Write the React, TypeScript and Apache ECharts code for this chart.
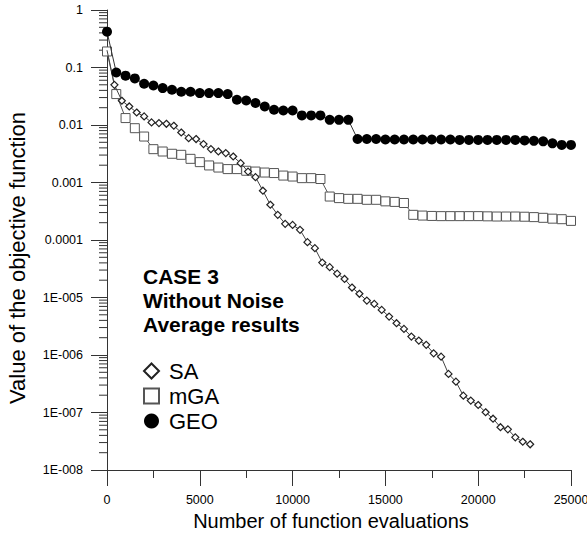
import React, { useEffect, useRef } from 'react';
import * as echarts from 'echarts';

const FONT = '"Liberation Sans", Arial, sans-serif';

const seriesNames = ['SA', 'mGA', 'GEO'];
const xTickValues = [0, 5000, 10000, 15000, 20000, 25000];
const yTickLabels = ['1', '0.1', '0.01', '0.001', '0.0001', '1E-005', '1E-006', '1E-007', '1E-008'];
const annotationLines = ['CASE 3', 'Without Noise', 'Average results'];
const xTitle = 'Number of function evaluations';
const yTitle = 'Value of the objective function';

const saPoints: [number, number][] = [
  [0, 0.2], [400, 0.05], [800, 0.0264], [1200, 0.021], [1600, 0.0165], [2000, 0.0141],
  [2400, 0.0111], [2800, 0.0108], [3200, 0.0105], [3600, 0.0097], [4000, 0.0074],
  [4400, 0.0059], [4800, 0.0057], [5200, 0.00466], [5600, 0.00381], [6000, 0.00346],
  [6400, 0.00325], [6800, 0.00283], [7200, 0.00217], [7600, 0.00155], [8000, 0.00124],
  [8400, 0.00072], [8800, 0.00041], [9200, 0.000274], [9600, 0.000191], [10000, 0.000183],
  [10400, 0.00015], [10800, 0.0000916], [11200, 0.0000721], [11600, 0.0000405],
  [12000, 0.0000337], [12400, 0.000026], [12800, 0.000021], [13200, 0.0000149],
  [13600, 0.0000116], [14000, 0.00000884], [14400, 0.00000774], [14800, 0.00000609],
  [15200, 0.00000465], [15600, 0.00000357], [16000, 0.00000284], [16400, 0.00000209],
  [16800, 0.00000178], [17200, 0.0000015], [17600, 0.00000107], [18000, 0.000000937],
  [18400, 0.000000469], [18800, 0.000000344], [19200, 0.000000196], [19600, 0.000000161],
  [20000, 0.000000135], [20400, 0.000000101], [20800, 0.000000078], [21200, 0.0000000555],
  [21600, 0.000000051], [22000, 0.000000037], [22400, 0.000000031], [22800, 0.000000028],
];

const mgaPoints: [number, number][] = [
  [0, 0.19], [500, 0.0345], [1000, 0.0132], [1500, 0.0088], [2000, 0.0063], [2500, 0.0038],
  [3000, 0.00346], [3500, 0.00316], [4000, 0.00303], [4500, 0.00258], [5000, 0.00226],
  [5500, 0.00198], [6000, 0.00182], [6500, 0.00171], [7000, 0.00171], [7500, 0.0016],
  [8000, 0.00155], [8500, 0.00149], [9000, 0.00146], [9500, 0.00132], [10000, 0.00127],
  [10500, 0.00119], [11000, 0.00119], [11500, 0.00115], [12000, 0.00057], [12500, 0.000535],
  [13000, 0.00052], [13500, 0.00052], [14000, 0.0005], [14500, 0.0005], [15000, 0.00047],
  [15500, 0.00046], [16000, 0.00044], [16500, 0.000274], [17000, 0.000266], [17500, 0.000262],
  [18000, 0.00026], [18500, 0.00026], [19000, 0.00026], [19500, 0.00026], [20000, 0.00026],
  [20500, 0.000258], [21000, 0.000256], [21500, 0.000256], [22000, 0.000256], [22500, 0.000254],
  [23000, 0.00025], [23500, 0.000243], [24000, 0.000235], [24500, 0.00023], [25000, 0.000215],
];

const geoPoints: [number, number][] = [
  [0, 0.42], [500, 0.082], [1000, 0.072], [1500, 0.0645], [2000, 0.0522], [2500, 0.0487],
  [3000, 0.0439], [3500, 0.041], [4000, 0.0379], [4500, 0.0379], [5000, 0.0359], [5500, 0.0359],
  [6000, 0.0359], [6500, 0.0345], [7000, 0.0275], [7500, 0.0267], [8000, 0.0241], [8500, 0.021],
  [9000, 0.0184], [9500, 0.0179], [10000, 0.0179], [10500, 0.0147], [11000, 0.0147],
  [11500, 0.0147], [12000, 0.0123], [12500, 0.0123], [13000, 0.0123], [13500, 0.0057],
  [14000, 0.0057], [14500, 0.0057], [15000, 0.0056], [15500, 0.0056], [16000, 0.0056],
  [16500, 0.0056], [17000, 0.0056], [17500, 0.0056], [18000, 0.0056], [18500, 0.0056],
  [19000, 0.0055], [19500, 0.0055], [20000, 0.0055], [20500, 0.0055], [21000, 0.0055],
  [21500, 0.0055], [22000, 0.0055], [22500, 0.0054], [23000, 0.0053], [23500, 0.0052],
  [24000, 0.0048], [24500, 0.0045], [25000, 0.0045],
];

// minor tick positions of the log axis (2..9 within each decade)
const yMinorTicks: number[] = [];
for (let k = -8; k < 0; k++) {
  for (let m = 2; m <= 9; m++) yMinorTicks.push(m * Math.pow(10, k));
}

export default function App() {
  const ref = useRef<HTMLDivElement>(null);

  useEffect(() => {
    document.body.style.margin = '0';
    const chart = echarts.init(ref.current!, undefined, { renderer: 'svg' });
    const option: any = {
      animation: false,
      backgroundColor: '#fff',
      textStyle: { fontFamily: FONT },
      grid: { left: 107, right: 16, top: 10, bottom: 65, outerBoundsMode: 'none', containLabel: false },
      xAxis: {
        type: 'value',
        min: xTickValues[0],
        max: xTickValues[xTickValues.length - 1],
        interval: xTickValues[1] - xTickValues[0],
        name: xTitle,
        nameLocation: 'middle',
        nameGap: 38,
        nameTextStyle: { fontSize: 20, color: '#000', fontFamily: FONT, padding: [0, 16, 0, 0] },
        axisLine: { lineStyle: { color: '#333', width: 1 } },
        axisTick: { inside: false, length: 16, lineStyle: { color: '#333' } },
        minorTick: { show: true, splitNumber: 2, length: 8, lineStyle: { color: '#333' } },
        splitLine: { show: false },
        axisLabel: {
          margin: 23, fontSize: 12.5, color: '#000', fontFamily: FONT,
          showMinLabel: true, showMaxLabel: true, hideOverlap: false,
          formatter: (v: number) => String(v),
        },
      },
      yAxis: {
        type: 'log',
        logBase: 10,
        min: 1e-8,
        max: 1,
        name: yTitle,
        nameLocation: 'middle',
        nameGap: 79,
        nameTextStyle: { fontSize: 22, color: '#000', fontFamily: FONT, padding: [0, 36, 0, 0] },
        axisLine: { show: true, lineStyle: { color: '#333', width: 1 } },
        axisTick: { show: true, inside: false, length: 16, lineStyle: { color: '#333' } },
        splitLine: { show: false },
        axisLabel: {
          margin: 24, fontSize: 12.5, color: '#000', fontFamily: FONT,
          showMinLabel: true, showMaxLabel: true,
          formatter: (v: number) => {
            const k = Math.round(-Math.log10(v));
            return yTickLabels[k] ?? '';
          },
        },
      },
      legend: {
        orient: 'vertical',
        left: 138,
        top: 355,
        itemWidth: 15,
        itemHeight: 15,
        itemGap: 3,
        selectedMode: false,
        data: [
          { name: seriesNames[0], icon: 'diamond' },
          { name: seriesNames[1], icon: 'rect' },
          { name: seriesNames[2], icon: 'circle' },
        ],
        textStyle: { fontSize: 22, lineHeight: 22, color: '#000', fontFamily: FONT, padding: [0, 0, 0, 5] },
      },
      graphic: [
        {
          type: 'text',
          left: 143,
          top: 264,
          style: {
            text: annotationLines.join('\n'),
            font: `bold 21px ${FONT}`,
            lineHeight: 24,
            fill: '#000',
          },
        },
      ],
      series: [
        {
          type: 'custom',
          silent: true,
          clip: false,
          data: yMinorTicks.map((v) => [xTickValues[0], v]),
          encode: { x: 0, y: 1 },
          renderItem: (_params: any, api: any) => {
            const p = api.coord([api.value(0), api.value(1)]);
            return {
              type: 'line',
              shape: { x1: p[0] - 8, y1: p[1], x2: p[0], y2: p[1] },
              style: { stroke: '#333', lineWidth: 1 },
            };
          },
          z: 1,
        },
        {
          name: seriesNames[1],
          type: 'line',
          data: mgaPoints,
          symbol: 'rect',
          symbolSize: 9,
          itemStyle: { color: '#fff', borderColor: '#555', borderWidth: 1 },
          lineStyle: { color: '#555', width: 1 },
          z: 2,
        },
        {
          name: seriesNames[0],
          type: 'line',
          data: saPoints.map((p, i) => (i === 0 ? { value: p, symbol: 'none' } : p)),
          symbol: 'diamond',
          symbolSize: 7,
          itemStyle: { color: '#fff', borderColor: '#222', borderWidth: 1.2 },
          lineStyle: { color: '#444', width: 1 },
          z: 3,
        },
        {
          name: seriesNames[2],
          type: 'line',
          data: geoPoints,
          symbol: 'circle',
          symbolSize: 10,
          itemStyle: { color: '#000' },
          lineStyle: { color: '#333', width: 1 },
          z: 4,
        },
      ],
    };
    chart.setOption(option);
    return () => chart.dispose();
  }, []);

  return <div ref={ref} style={{ width: 587, height: 535 }} />;
}
